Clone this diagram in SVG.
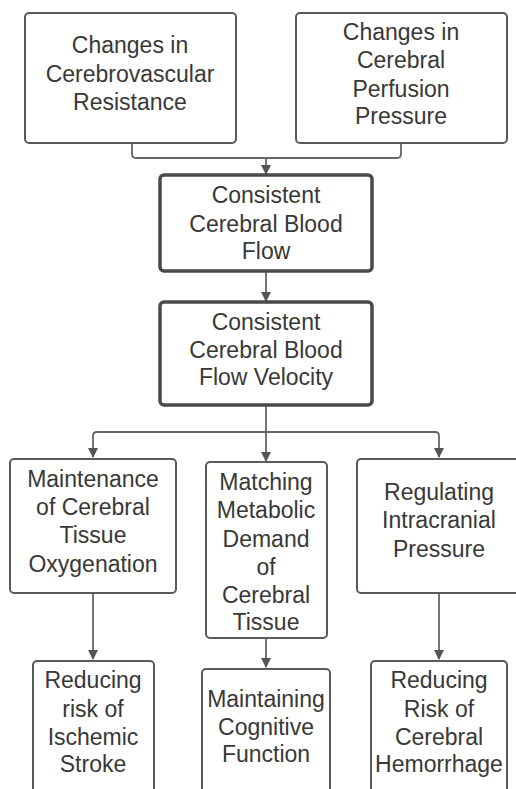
<svg xmlns="http://www.w3.org/2000/svg" width="516" height="789" viewBox="0 0 516 789">
<defs>
<style>
.box{fill:#fff;stroke:#5a5a5a;stroke-width:2}
.thick{fill:#fff;stroke:#4a4a4a;stroke-width:3.5}
text{font-family:"Liberation Sans",Arial,sans-serif;font-size:23px;fill:#383838;text-anchor:middle}
.ln{fill:none;stroke:#666;stroke-width:1.8}
</style>
<marker id="ah" markerWidth="10" markerHeight="10" refX="9" refY="5" orient="auto" markerUnits="userSpaceOnUse">
<path d="M0,0 L10,5 L0,10 z" fill="#555"/>
</marker>
</defs>
<rect width="516" height="789" fill="#fff"/>
<g id="connectors">
<path class="ln" d="M132,143 V154 Q132,158 136,158 H397 Q401,158 401,154 V143"/>
<path class="ln" d="M266,158 V174" marker-end="url(#ah)"/>
<path class="ln" d="M266,271 V301" marker-end="url(#ah)"/>
<path class="ln" d="M266,405 V461" marker-end="url(#ah)"/>
<path class="ln" d="M93,457 V436 Q93,432 97,432 H435 Q439,432 439,436 V457" />
<path class="ln" d="M93,450 V457" marker-end="url(#ah)"/>
<path class="ln" d="M439,450 V457" marker-end="url(#ah)"/>
<path class="ln" d="M93,593 V659" marker-end="url(#ah)"/>
<path class="ln" d="M266,638 V667" marker-end="url(#ah)"/>
<path class="ln" d="M439,593 V659" marker-end="url(#ah)"/>
</g>
<g id="n1"><rect class="box" x="25" y="13" width="211" height="130" rx="4"/>
<text x="130" y="53">Changes in</text><text x="130" y="82">Cerebrovascular</text><text x="130" y="110">Resistance</text></g>
<g id="n2"><rect class="box" x="296" y="13" width="211" height="130" rx="4"/>
<text x="401" y="40">Changes in</text><text x="401" y="68">Cerebral</text><text x="401" y="97">Perfusion</text><text x="401" y="124">Pressure</text></g>
<g id="n3"><rect class="thick" x="160" y="175" width="212" height="96" rx="4"/>
<text x="266" y="203">Consistent</text><text x="266" y="232">Cerebral Blood</text><text x="266" y="259">Flow</text></g>
<g id="n4"><rect class="thick" x="160" y="302" width="212" height="103" rx="4"/>
<text x="266" y="330">Consistent</text><text x="266" y="358">Cerebral Blood</text><text x="266" y="385">Flow Velocity</text></g>
<g id="n5"><rect class="box" x="10" y="459" width="166" height="134" rx="4"/>
<text x="93" y="487">Maintenance</text><text x="93" y="515">of Cerebral</text><text x="93" y="543">Tissue</text><text x="93" y="572">Oxygenation</text></g>
<g id="n6"><rect class="box" x="206" y="462" width="121" height="176" rx="4"/>
<text x="266" y="490">Matching</text><text x="266" y="518">Metabolic</text><text x="266" y="547">Demand</text><text x="266" y="575">of</text><text x="266" y="603">Cerebral</text><text x="266" y="630">Tissue</text></g>
<g id="n7"><rect class="box" x="357" y="459" width="170" height="134" rx="4"/>
<text x="439" y="500">Regulating</text><text x="439" y="528">Intracranial</text><text x="439" y="557">Pressure</text></g>
<g id="n8"><rect class="box" x="33" y="661" width="121" height="140" rx="4"/>
<text x="93" y="688">Reducing</text><text x="93" y="717">risk of</text><text x="93" y="745">Ischemic</text><text x="93" y="772">Stroke</text></g>
<g id="n9"><rect class="box" x="202" y="669" width="128" height="132" rx="4"/>
<text x="266" y="707">Maintaining</text><text x="266" y="735">Cognitive</text><text x="266" y="762">Function</text></g>
<g id="n10"><rect class="box" x="371" y="661" width="136" height="140" rx="4"/>
<text x="439" y="688">Reducing</text><text x="439" y="717">Risk of</text><text x="439" y="745">Cerebral</text><text x="439" y="772">Hemorrhage</text></g>
</svg>
